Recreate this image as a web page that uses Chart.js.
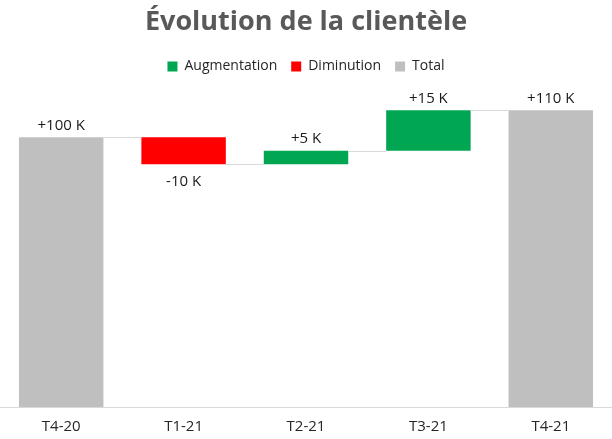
<!DOCTYPE html>
<html lang="fr">
<head>
<meta charset="utf-8">
<title>Évolution de la clientèle</title>
<script src="https://cdn.jsdelivr.net/npm/chart.js@4.4.1/dist/chart.umd.min.js"></script>
<style>
  html, body { margin: 0; padding: 0; background: #fff; }
  #wrap { width: 612px; height: 439px; position: relative; }
</style>
</head>
<body>
<div id="wrap"><canvas id="chart"></canvas></div>
<script>
// waterfall data, in thousands of clients
const categories = ["T4-20", "T1-21", "T2-21", "T3-21", "T4-21"];
const totals = [100, null, null, null, 110];
const increases = [null, null, 5, 15, null];
const decreases = [null, -10, null, null, null];

const GREEN = "#00a651";
const RED = "#ff0000";
const GREY = "#bfbfbf";
const FONT = "'Open Sans', sans-serif";

// build floating [start, end] ranges from the running total
const running = [];
const totalBars = [];
const upBars = [];
const downBars = [];
let level = 0;
categories.forEach((c, i) => {
  totalBars.push(null);
  upBars.push(null);
  downBars.push(null);
  if (totals[i] !== null) {
    totalBars[i] = [0, totals[i]];
    level = totals[i];
  } else if (increases[i] !== null) {
    upBars[i] = [level, level + increases[i]];
    level += increases[i];
  } else if (decreases[i] !== null) {
    downBars[i] = [level + decreases[i], level];
    level += decreases[i];
  }
  running.push(level);
});

// connector lines between bars + value labels
const waterfallExtras = {
  id: "waterfallExtras",
  afterDatasetsDraw(chart) {
    const ctx = chart.ctx;
    const y = chart.scales.y;
    const bars = [];
    chart.data.datasets.forEach((ds, d) => {
      chart.getDatasetMeta(d).data.forEach((el, i) => {
        if (ds.data[i] !== null) bars[i] = el;
      });
    });

    ctx.save();
    ctx.strokeStyle = "#d9d9d9";
    ctx.lineWidth = 1;
    for (let i = 0; i < bars.length - 1; i++) {
      const py = Math.round(y.getPixelForValue(running[i])) + 0.5;
      ctx.beginPath();
      ctx.moveTo(bars[i].x + bars[i].width / 2, py);
      ctx.lineTo(bars[i + 1].x - bars[i + 1].width / 2, py);
      ctx.stroke();
    }

    ctx.font = "15px " + FONT;
    ctx.fillStyle = "#1a1a1a";
    ctx.textAlign = "center";
    ctx.textBaseline = "middle";
    categories.forEach((c, i) => {
      let txt, py;
      if (totals[i] !== null) {
        txt = "+" + totals[i] + " K";
        py = y.getPixelForValue(totals[i]) - 12;
      } else if (increases[i] !== null) {
        txt = "+" + increases[i] + " K";
        py = y.getPixelForValue(running[i]) - 12;
      } else {
        txt = decreases[i] + " K";
        py = y.getPixelForValue(running[i]) + 17;
      }
      ctx.fillText(txt, bars[i].x, py);
    });
    ctx.restore();
  }
};

new Chart(document.getElementById("chart"), {
  type: "bar",
  data: {
    labels: categories,
    datasets: [
      { label: "Augmentation", data: upBars, backgroundColor: GREEN },
      { label: "Diminution", data: downBars, backgroundColor: RED },
      { label: "Total", data: totalBars, backgroundColor: GREY }
    ]
  },
  options: {
    responsive: true,
    maintainAspectRatio: false,
    animation: false,
    grouped: false,
    barPercentage: 0.69,
    categoryPercentage: 1,
    layout: { padding: { left: 0, right: 0, top: 0, bottom: 0 } },
    scales: {
      x: {
        grid: { display: false },
        border: { color: "#d9d9d9" },
        ticks: { color: "#262626", font: { family: FONT, size: 15 }, padding: 3 }
      },
      y: { display: false, min: 0, max: 120 }
    },
    plugins: {
      tooltip: { enabled: false },
      title: {
        display: true,
        text: "Évolution de la clientèle",
        color: "#595959",
        font: { family: FONT, size: 27, weight: "bold" },
        padding: { top: 6, bottom: 7 }
      },
      legend: {
        position: "top",
        labels: {
          color: "#262626",
          font: { family: FONT, size: 14 },
          boxWidth: 10,
          boxHeight: 10,
          padding: 14
        }
      }
    }
  },
  plugins: [waterfallExtras]
});
</script>
</body>
</html>
